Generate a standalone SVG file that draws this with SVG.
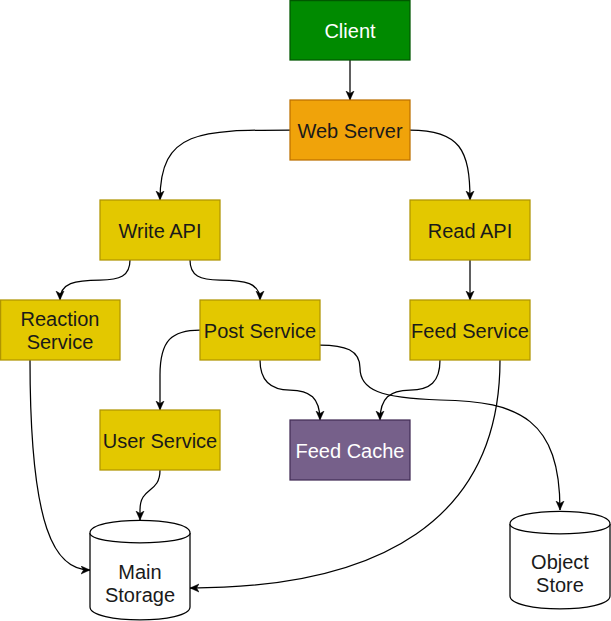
<svg xmlns="http://www.w3.org/2000/svg" width="611" height="621" viewBox="0 0 611 621">
<style>
.box{stroke-width:1.25}
.yellow{fill:#e3c800;stroke:#b09500}
.t{font-family:"Liberation Sans",Arial,sans-serif;font-size:20px;text-anchor:middle;fill:#1a1a1a}
.w{fill:#ffffff}
.edge{fill:none;stroke:#000;stroke-width:1.25}
.db{fill:#ffffff;stroke:#000;stroke-width:1.25}
</style>
<defs>
<marker id="arr" markerUnits="userSpaceOnUse" markerWidth="12" markerHeight="12" refX="9" refY="4.5" orient="auto">
<path d="M0,0.5 L9,4.5 L0,8.5 L2.5,4.5 Z" fill="#000" stroke="#000" stroke-width="0.5"/>
</marker>
</defs>
<g id="connectors">
<path class="edge" marker-end="url(#arr)" d="M350,60 L350,100"/>
<path class="edge" marker-end="url(#arr)" d="M290,130 C200,130 160,130 160,200"/>
<path class="edge" marker-end="url(#arr)" d="M410,130 C460,130 470,150 470,200"/>
<path class="edge" marker-end="url(#arr)" d="M130,260 C130,276 120,280 100,280 C75,280 60,283 60,300"/>
<path class="edge" marker-end="url(#arr)" d="M190,260 C190,276 200,280 220,280 C245,280 260,283 260,300"/>
<path class="edge" marker-end="url(#arr)" d="M470,260 L470,300"/>
<path class="edge" marker-end="url(#arr)" d="M200,330 C172,330 160,340 160,375 L160,410"/>
<path class="edge" marker-end="url(#arr)" d="M260,360 C260,382 272,390 290,390 C310,390 320,398 320,420"/>
<path class="edge" marker-end="url(#arr)" d="M440,360 C440,382 430,390 410,390 C390,390 380,398 380,420"/>
<path class="edge" marker-end="url(#arr)" d="M320,345 C345,345 360,350 360,368 C360,390 380,398 440,400 C520,401 560,420 560,510"/>
<path class="edge" marker-end="url(#arr)" d="M500,360 C500,520 380,588 190,588"/>
<path class="edge" marker-end="url(#arr)" d="M30,360 C30,530 55,570 90,570"/>
<path class="edge" marker-end="url(#arr)" d="M160,470 C160,494 140,486 140,510 L140,520"/>
</g>
<g id="client">
<rect class="box" x="290" y="0.6" width="120" height="59.4" fill="#008a00" stroke="#005700"/>
<text class="t w" x="350" y="38">Client</text>
</g>
<g id="web-server">
<rect class="box" x="290" y="100" width="120" height="60" fill="#f0a30a" stroke="#bd7000"/>
<text class="t" x="350" y="138">Web Server</text>
</g>
<g id="write-api">
<rect class="box yellow" x="100" y="200" width="120" height="60"/>
<text class="t" x="160" y="238">Write API</text>
</g>
<g id="read-api">
<rect class="box yellow" x="410" y="200" width="120" height="60"/>
<text class="t" x="470" y="238">Read API</text>
</g>
<g id="reaction-service">
<rect class="box yellow" x="0.6" y="300" width="119.4" height="60"/>
<text class="t" x="60" y="326">Reaction</text>
<text class="t" x="60" y="349">Service</text>
</g>
<g id="post-service">
<rect class="box yellow" x="200" y="300" width="120" height="60"/>
<text class="t" x="260" y="338">Post Service</text>
</g>
<g id="feed-service">
<rect class="box yellow" x="410" y="300" width="120" height="60"/>
<text class="t" x="470" y="338">Feed Service</text>
</g>
<g id="user-service">
<rect class="box yellow" x="100" y="410" width="120" height="60"/>
<text class="t" x="160" y="448">User Service</text>
</g>
<g id="feed-cache">
<rect class="box" x="290" y="420" width="120" height="60" fill="#76608a" stroke="#432d57"/>
<text class="t w" x="350" y="458">Feed Cache</text>
</g>
<g id="main-storage">
<path class="db" d="M90,533 C90,516 190,516 190,533 L190,607 C190,624 90,624 90,607 Z"/>
<path class="db" d="M90,533 C90,546 190,546 190,533" fill="none"/>
<text class="t" x="140" y="579">Main</text>
<text class="t" x="140" y="602">Storage</text>
</g>
<g id="object-store">
<path class="db" d="M510,524 C510,507 610,507 610,524 L610,596 C610,613 510,613 510,596 Z"/>
<path class="db" d="M510,524 C510,537 610,537 610,524" fill="none"/>
<text class="t" x="560" y="569">Object</text>
<text class="t" x="560" y="592">Store</text>
</g>
</svg>
